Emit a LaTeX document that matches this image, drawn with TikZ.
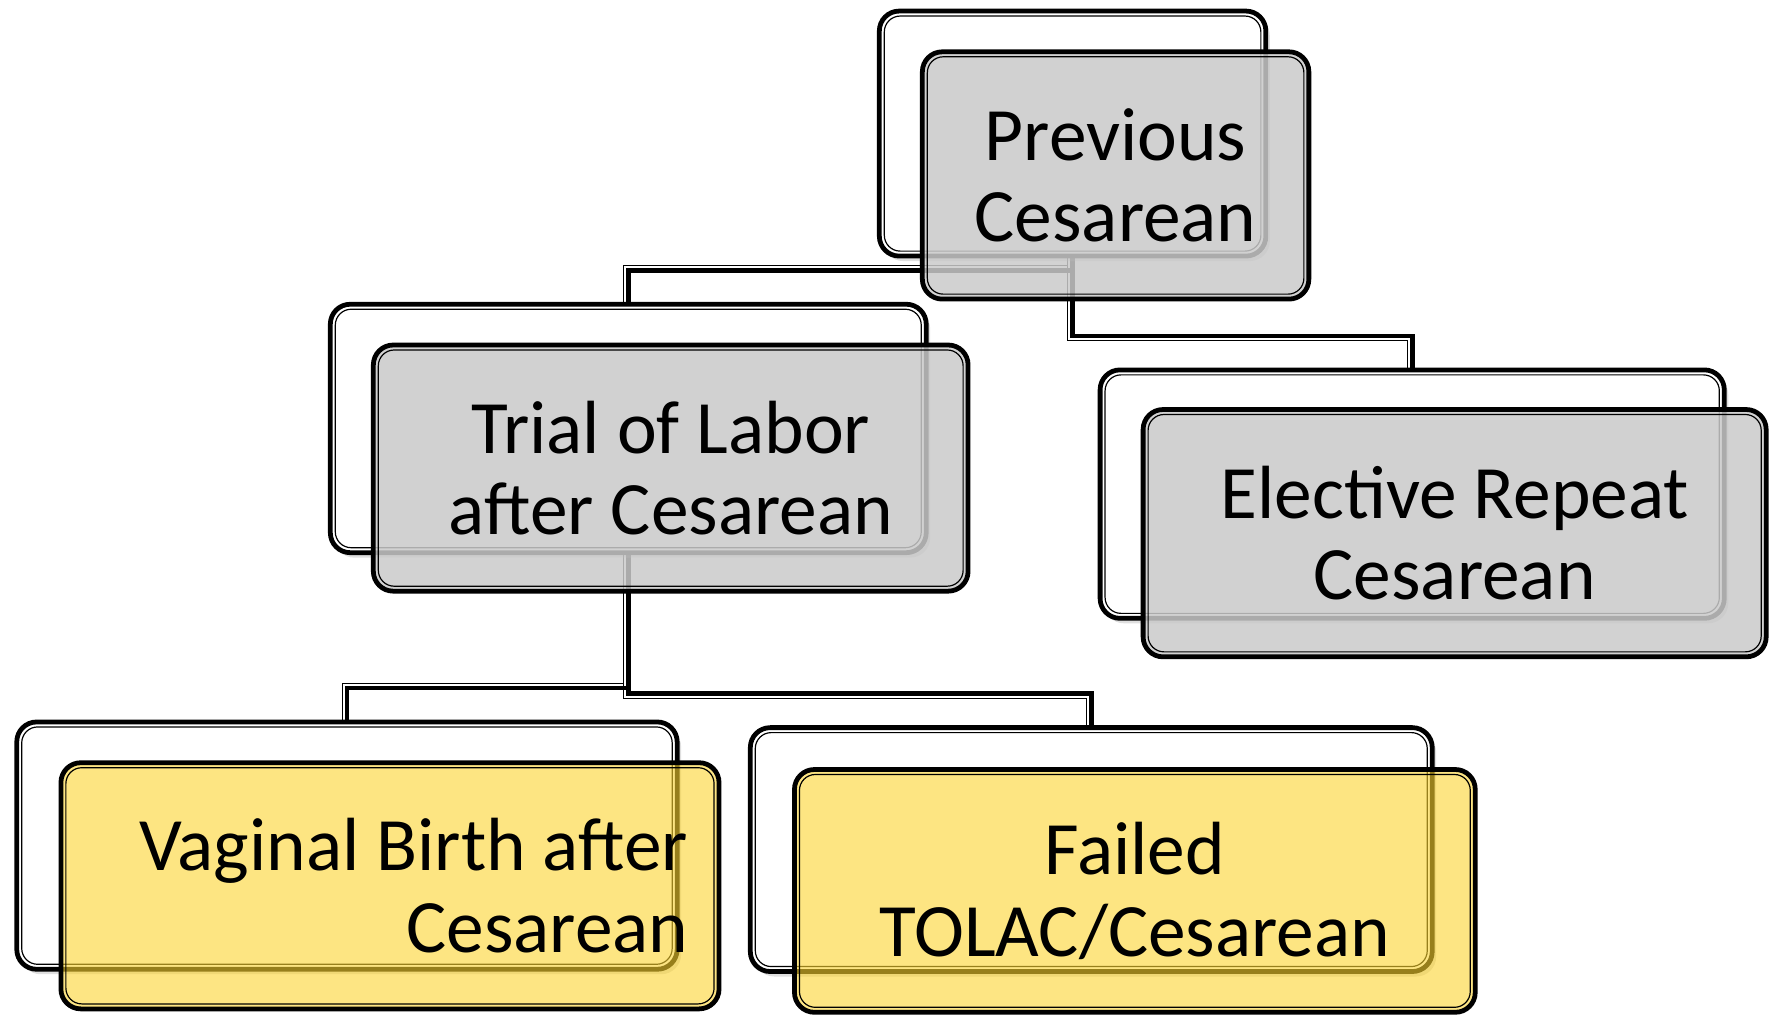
\documentclass[tikz,border=0pt]{standalone}
\usepackage{fontspec}
\setmainfont{Carlito}
\usetikzlibrary{backgrounds,shadows}

\definecolor{cajagris}{RGB}{202,202,202}
\definecolor{cajaamarilla}{RGB}{252,212,48}

\begin{document}
\begin{tikzpicture}[
	x=0.02cm, y=-0.02cm,
	trasera/.style={rectangle, draw, line width=2.4pt, outer sep=0pt, rounded corners=10pt,
		fill=white, drop shadow={opacity=0.25, shadow xshift=2pt, shadow yshift=-2.5pt}},
	frontal/.style={rectangle, draw, line width=2.4pt, outer sep=0pt, rounded corners=10pt,
		fill opacity=0.85, text opacity=1, align=center,
		font=\fontsize{37.9}{41}\selectfont},
	borde/.style={line width=0.6pt, rounded corners=8pt},
	enlace/.style={line width=2.4pt},
	enlacefino/.style={line width=0.6pt, shorten <=-2.4pt, shorten >=-2.4pt}
	]

	\useasboundingbox (0,0) rectangle (1568,898);

	%Cajas de atras
	\node[trasera, minimum width=6.83cm, minimum height=4.33cm] (pcb) at (947.5,118) {};
	\node[trasera, minimum width=10.53cm, minimum height=4.39cm] (tolacb) at (555,378.5) {};
	\node[trasera, minimum width=11.03cm, minimum height=4.39cm] (ercb) at (1247.5,436.5) {};
	\node[trasera, minimum width=11.67cm, minimum height=4.37cm] (vbacb) at (306.5,747) {};
	\node[trasera, minimum width=12.05cm, minimum height=4.31cm] (fallob) at (964,750.5) {};
	\foreach \n in {pcb,tolacb,ercb,vbacb,fallob}
		\draw[borde] ([shift={(2.5pt,-2.5pt)}]\n.north west) rectangle ([shift={(-2.5pt,2.5pt)}]\n.south east);

	%Cajas de adelante
	\node[frontal, fill=cajagris, minimum width=6.83cm, minimum height=4.37cm] (pc) at (985.5,155) {Previous\\Cesarean};
	\node[frontal, fill=cajagris, minimum width=10.51cm, minimum height=4.35cm] (tolac) at (592.5,413.5) {Trial of Labor\\after Cesarean};
	\node[frontal, fill=cajagris, minimum width=11.01cm, minimum height=4.37cm] (erc) at (1285,471) {Elective Repeat\\Cesarean};
	\node[frontal, fill=cajaamarilla, fill opacity=0.6, align=flush right, text width=10.54cm,
		minimum width=11.63cm, minimum height=4.35cm] (vbac) at (344.5,782.5) {Vaginal Birth after\\Cesarean};
	\node[frontal, fill=cajaamarilla, fill opacity=0.6, minimum width=12.03cm, minimum height=4.29cm] (fallo) at (1002.5,787) {Failed\\TOLAC/Cesarean};
	\foreach \n in {pc,tolac,erc,vbac,fallo}
		\draw[borde] ([shift={(2.5pt,-2.5pt)}]\n.north west) rectangle ([shift={(-2.5pt,2.5pt)}]\n.south east);

	%Conectores
	\begin{scope}[on background layer]
		\draw[enlace] (pcb.south) |- ([yshift=0.6cm]tolacb.north) -- (tolacb.north);
		\draw[enlace] (pcb.south) |- ([yshift=0.6cm]ercb.north) -- (ercb.north);
		\draw[enlace] (tolacb.south) |- ([yshift=0.6cm]vbacb.north) -- (vbacb.north);
		\draw[enlace] (tolacb.south) |- ([yshift=0.6cm]fallob.north) -- (fallob.north);
		\draw[enlacefino, transform canvas={shift={(-2.4pt,2.4pt)}}] (pcb.south) |- ([yshift=0.6cm]tolacb.north) -- (tolacb.north);
		\draw[enlacefino, transform canvas={shift={(-2.4pt,-2.4pt)}}] (pcb.south) |- ([yshift=0.6cm]ercb.north) -- (ercb.north);
		\draw[enlacefino, transform canvas={shift={(-2.4pt,2.4pt)}}] (tolacb.south) |- ([yshift=0.6cm]vbacb.north) -- (vbacb.north);
		\draw[enlacefino, transform canvas={shift={(-2.4pt,-2.4pt)}}] (tolacb.south) |- ([yshift=0.6cm]fallob.north) -- (fallob.north);
	\end{scope}

\end{tikzpicture}
\end{document}
